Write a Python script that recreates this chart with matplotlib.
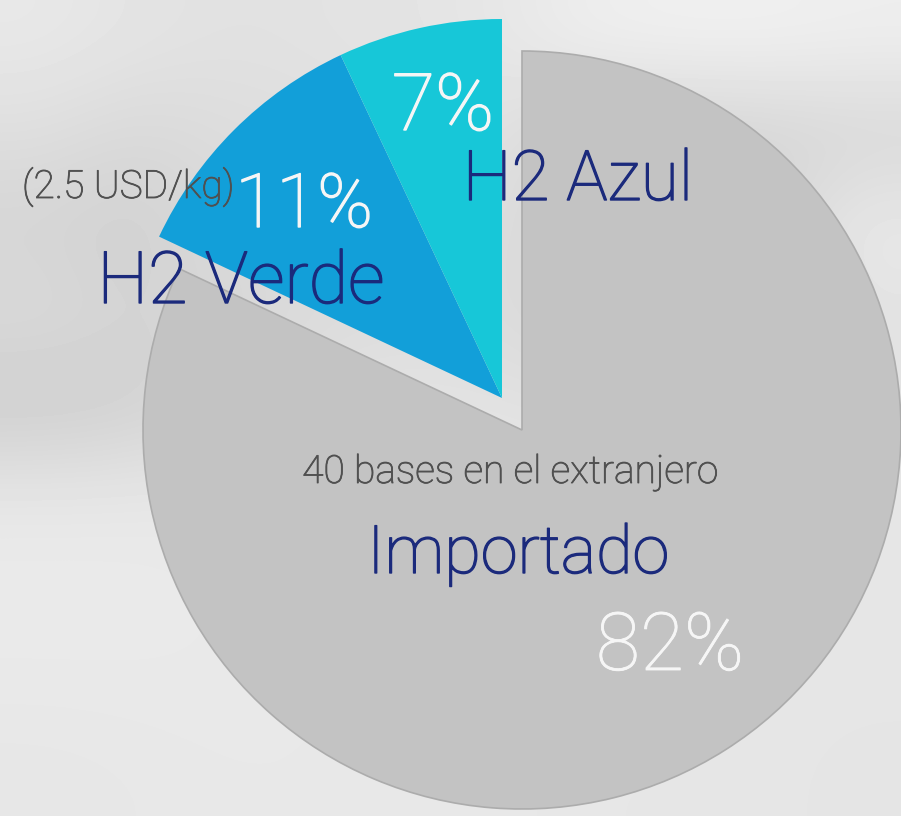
import numpy as np
import matplotlib.pyplot as plt
import matplotlib.patheffects as pe

# data
labels = ['Importado', 'H2 Verde', 'H2 Azul']
shares = [82, 11, 7]
pct_labels = ['82%', '11%', '7%']
slice_colors = ['#c3c3c3', '#129fd9', '#17c7d8']
notes = ['40 bases en el extranjero', '(2.5 USD/kg)', '']

W, H = 901, 816
plt.rcParams['font.family'] = ['Roboto', 'DejaVu Sans']

fig = plt.figure(figsize=(W / 100, H / 100), dpi=100)
ax = fig.add_axes([0, 0, 1, 1])
ax.axis('off')

def py(y):
    return H - y

# blurred photo behind the chart, only a rough grey wash
bg = np.array([
    [232, 228, 225, 226, 228, 230, 238, 240, 240, 238],
    [222, 216, 220, 222, 224, 226, 212, 210, 212, 214],
    [212, 208, 218, 220, 222, 222, 210, 208, 214, 234],
    [218, 212, 214, 218, 220, 220, 214, 214, 216, 226],
    [204, 208, 218, 226, 228, 226, 224, 224, 226, 228],
    [232, 232, 232, 232, 232, 232, 230, 230, 230, 230],
    [234, 234, 233, 233, 232, 232, 232, 232, 230, 230],
    [233, 233, 233, 232, 232, 232, 232, 230, 230, 230],
    [230, 231, 232, 232, 232, 232, 230, 230, 230, 228],
]) / 255.0
ax.imshow(bg, cmap='gray', vmin=0, vmax=1, interpolation='bicubic',
          extent=(0, W, 0, H), zorder=0, aspect='auto')

center = (522, py(430))
radius = 379
wedges, _ = ax.pie(shares, colors=slice_colors, startangle=90, counterclock=False,
                   center=center, radius=radius,
                   wedgeprops=dict(linewidth=0))
ax.set_xlim(0, W)
ax.set_ylim(0, H)
ax.set_aspect('equal', adjustable='box')
wedges[0].set_edgecolor('#acacac')
wedges[0].set_linewidth(1.2)
# the two hydrogen slices are pulled out together
for w in wedges[1:]:
    w.set_center((center[0] - 20, center[1] + 32))
    w.set_zorder(3)
    w.set_linewidth(0)

navy = '#1b2a7c'
white = '#f6f6f6'
dgrey = '#505050'

def thick(c, lw=1.0):
    return [pe.withStroke(linewidth=lw, foreground=c)]

ax.text(22, py(198), notes[1], fontsize=28, color=dgrey, ha='left', va='baseline',
        fontweight='light', path_effects=thick(dgrey, 0.6), zorder=5)
ax.text(443, py(130), pct_labels[2], fontsize=57, color=white, ha='center', va='baseline',
        fontweight='light', path_effects=thick(white), zorder=6)
ax.text(578, py(200), labels[2], fontsize=50, color=navy, ha='center', va='baseline',
        fontweight='light', path_effects=thick(navy), zorder=6)
ax.text(304, py(227), pct_labels[1], fontsize=54, color=white, ha='center', va='baseline',
        fontweight='light', path_effects=thick(white), zorder=6)
ax.text(241, py(303), labels[1], fontsize=52, color=navy, ha='center', va='baseline',
        fontweight='light', path_effects=thick(navy), zorder=6)
ax.text(510, py(483), notes[0], fontsize=28, color=dgrey, ha='center', va='baseline',
        fontweight='light', path_effects=thick(dgrey, 0.6), zorder=6)
ax.text(518, py(573), labels[0], fontsize=48, color=navy, ha='center', va='baseline',
        fontweight='light', path_effects=thick(navy), zorder=6)
ax.text(670, py(670), pct_labels[0], fontsize=58, color=white, ha='center', va='baseline',
        fontweight='light', path_effects=thick(white, 0.6), zorder=6)

fig.savefig('out.png', dpi=100)
